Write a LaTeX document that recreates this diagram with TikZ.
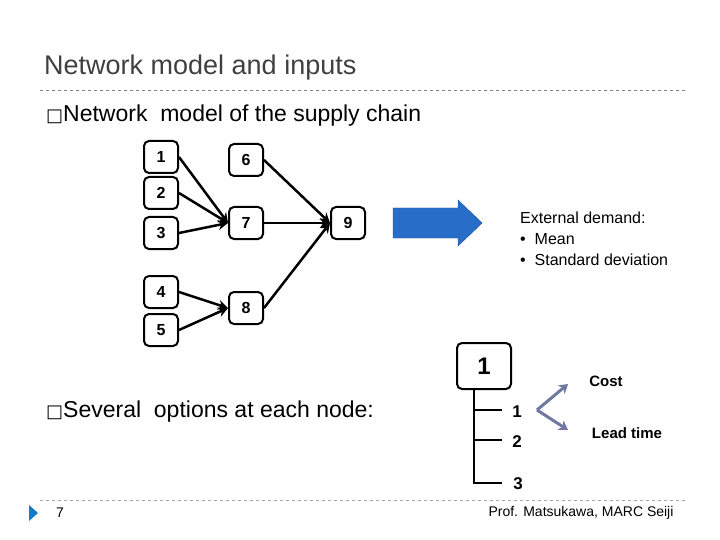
\documentclass[tikz,border=0pt]{standalone}
\usepackage{fontspec}
\setmainfont{Liberation Sans}
\newfontfamily\dejavu{DejaVu Sans}
\usetikzlibrary{arrows.meta}
\definecolor{ttl}{RGB}{64,64,64}
\definecolor{barrow}{RGB}{40,110,200}
\definecolor{garrow}{RGB}{110,120,160}
\begin{document}
\begin{tikzpicture}[x=1pt,y=-1pt,
 bx/.style={draw,line width=2pt,rounded corners=5pt,minimum width=34pt,minimum height=32pt,font=\bfseries\fontsize{16}{18}\selectfont,inner sep=0pt},
 ar/.style={line width=2.5pt,-{Stealth[length=10pt,width=10pt]}},
 txt/.style={font=\fontsize{23}{27}\selectfont,anchor=west,inner sep=0pt}]
\useasboundingbox (0,0) rectangle (720,540);
\node[anchor=west,inner sep=0pt,text=ttl,font=\fontsize{27}{31}\selectfont] (title) at (44,68) {Network model and inputs};
\draw[dashed,gray] (40,90) -- (686,90);
\draw[dashed,gray!70] (40,500) -- (686,500);
\node[txt] (b1) at (46,116) {{\dejavu\fontsize{18}{18}\selectfont □}Network\ \ model of the supply chain};
\node[txt] (b2) at (46,412) {{\dejavu\fontsize{18}{18}\selectfont □}Several\ \ options at each node:};
\node[bx] (n1) at (161,157) {1};
\node[bx] (n2) at (161,193) {2};
\node[bx] (n3) at (161,233) {3};
\node[bx] (n4) at (161,292) {4};
\node[bx] (n5) at (161,330) {5};
\node[bx] (n6) at (246,160) {6};
\node[bx] (n7) at (246,223) {7};
\node[bx] (n8) at (246,308) {8};
\node[bx] (n9) at (348,223) {9};
\foreach \a in {n1,n2,n3} \draw[ar] (\a.east) -- (n7.west);
\foreach \a in {n4,n5} \draw[ar] (\a.east) -- (n8.west);
\foreach \a in {n6,n7,n8} \draw[ar] (\a.east) -- (n9.west);
\filldraw[fill=barrow,draw=barrow!70!black] (393,208) -- (458,208) -- (458,200) -- (482,223) -- (458,246) -- (458,238) -- (393,238) -- cycle;
\node[anchor=north west,inner sep=0pt,font=\fontsize{16}{21}\selectfont,align=left] (ext) at (520,212) {External demand:\\ \textbullet\ \ Mean\\ \textbullet\ \ Standard deviation};
\node[bx,minimum width=54pt,minimum height=46pt,font=\bfseries\fontsize{24}{26}\selectfont] (o1) at (484,366) {1};
\coordinate (t0) at (474,389);
\coordinate (t3) at (474,483);
\coordinate (e1) at (502,410);
\coordinate (e2) at (502,440);
\coordinate (e3) at (502,483);
\draw[line width=2.2pt] (t0) -- (t3) -- (e3);
\draw[line width=2.2pt] (474,410) -- (e1) (474,440) -- (e2);
\node[font=\bfseries\fontsize{17}{19}\selectfont] (l1) at (517,412) {1};
\node[font=\bfseries\fontsize{17}{19}\selectfont] (l2) at (517,442) {2};
\node[font=\bfseries\fontsize{17}{19}\selectfont] (l3) at (518,484) {3};
\coordinate (v) at (537,410);
\node[font=\bfseries\fontsize{15}{17}\selectfont] (cost) at (606,381) {Cost};
\node[font=\bfseries\fontsize{15}{17}\selectfont] (lt) at (627,433) {Lead time};
\draw[line width=3pt,garrow,-{Stealth[length=9pt,width=11pt]}] (v) -- (568,384);
\draw[line width=3pt,garrow,-{Stealth[length=9pt,width=11pt]}] (v) -- (568,430);
\fill[cyan!60!blue] (29,505) -- (38,513) -- (29,521) -- cycle;
\node[font=\fontsize{14}{16}\selectfont] (pg) at (60,513) {7};
\node[anchor=east,font=\fontsize{14}{16}\selectfont] (auth) at (677,513) {Prof. Matsukawa, MARC Seiji};
\end{tikzpicture}
\end{document}
